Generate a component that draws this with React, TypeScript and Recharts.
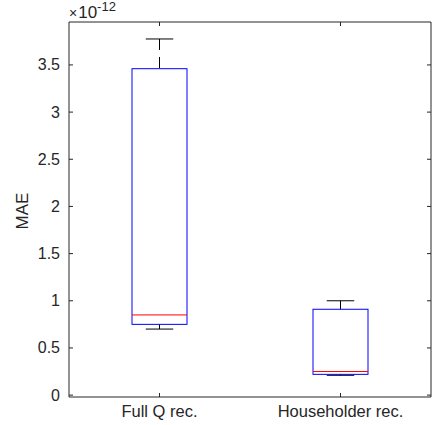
import React from "react";
import { ComposedChart, Bar, XAxis, YAxis } from "recharts";

const categories = ["Full Q rec.", "Householder rec."];
const lowerWhisker = [0.7, 0.21];
const lowerQuartile = [0.75, 0.22];
const medians = [0.85, 0.25];
const upperQuartile = [3.46, 0.91];
const upperWhisker = [3.775, 1.0];
const yTicks = [0, 0.5, 1, 1.5, 2, 2.5, 3, 3.5];

const AXIS = "#262626";
const FONT = "'Liberation Sans', Arial, Helvetica, sans-serif";
const TICK_LEN = 4;
const Y_DOMAIN = [-0.02, 3.955];

const data = categories.map((name, i) => ({
  name,
  box: [lowerQuartile[i], upperQuartile[i]],
  min: lowerWhisker[i],
  median: medians[i],
  max: upperWhisker[i],
}));

// box + whiskers + median, placed from the bar's own scaled rect
const BoxShape = (props: any) => {
  const { x, y, width, height, payload } = props;
  const [q1, q3] = payload.box;
  const top = Math.min(y, y + height);
  const bottom = Math.max(y, y + height);
  const k = (bottom - top) / (q3 - q1);
  const py = (v: number) => bottom - (v - q1) * k;
  const cx = x + width / 2;
  const cap = width / 4;
  const yMax = py(payload.max);
  const yMin = py(payload.min);
  const yMed = py(payload.median);
  return (
    <g>
      <line x1={cx} x2={cx} y1={yMax} y2={top} stroke="#000" strokeDasharray="11 7" />
      <line x1={cx - cap} x2={cx + cap} y1={yMax} y2={yMax} stroke="#000" />
      <line x1={cx} x2={cx} y1={yMin} y2={bottom} stroke="#000" strokeDasharray="11 7" />
      <line x1={cx - cap} x2={cx + cap} y1={yMin} y2={yMin} stroke="#000" />
      <rect x={x} y={top} width={width} height={bottom - top} fill="none" stroke="#0000ff" />
      <line x1={x} x2={x + width} y1={yMed} y2={yMed} stroke="#ff0000" />
    </g>
  );
};

const LeftTick = (props: any) => {
  const { x, y, payload } = props;
  return (
    <g>
      <line x1={x} x2={x + TICK_LEN} y1={y} y2={y} stroke={AXIS} />
      <text x={x - 9} y={y + 5.5} textAnchor="end" fontSize={16} fill={AXIS} fontFamily={FONT}>
        {payload.value}
      </text>
    </g>
  );
};

const RightTick = (props: any) => {
  const { x, y } = props;
  return <line x1={x} x2={x - TICK_LEN} y1={y} y2={y} stroke={AXIS} />;
};

const BottomTick = (props: any) => {
  const { x, y, payload } = props;
  return (
    <g>
      <line x1={x} x2={x} y1={y} y2={y - TICK_LEN} stroke={AXIS} />
      <text x={x} y={y + 20} textAnchor="middle" fontSize={16.5} fill={AXIS} fontFamily={FONT}>
        {payload.value}
      </text>
    </g>
  );
};

const TopTick = (props: any) => {
  const { x, y } = props;
  return <line x1={x} x2={x} y1={y} y2={y + TICK_LEN} stroke={AXIS} />;
};

export default function App() {
  return (
    <div style={{ position: "relative", width: 435, height: 425, background: "#fff" }}>
      <style>{`body{margin:0}`}</style>
      <ComposedChart
        width={435}
        height={425}
        data={data}
        margin={{ top: 21, right: 3, bottom: 8, left: 29 }}
      >
        <XAxis
          xAxisId="bottom"
          dataKey="name"
          height={20}
          tickSize={0}
          tickMargin={0}
          tickLine={false}
          interval={0}
          axisLine={{ stroke: AXIS }}
          tick={<BottomTick />}
        />
        <XAxis
          xAxisId="top"
          dataKey="name"
          orientation="top"
          height={1}
          tickSize={0}
          tickMargin={0}
          tickLine={false}
          interval={0}
          axisLine={{ stroke: AXIS }}
          tick={<TopTick />}
        />
        <YAxis
          yAxisId="left"
          type="number"
          domain={Y_DOMAIN}
          ticks={yTicks}
          allowDataOverflow
          interval={0}
          width={40}
          tickSize={0}
          tickMargin={0}
          tickLine={false}
          axisLine={{ stroke: AXIS }}
          tick={<LeftTick />}
        />
        <YAxis
          yAxisId="right"
          orientation="right"
          type="number"
          domain={Y_DOMAIN}
          ticks={yTicks}
          allowDataOverflow
          interval={0}
          width={1}
          tickSize={0}
          tickMargin={0}
          tickLine={false}
          axisLine={{ stroke: AXIS }}
          tick={<RightTick />}
        />
        <Bar
          xAxisId="bottom"
          yAxisId="left"
          dataKey="box"
          barSize={55}
          shape={<BoxShape />}
          isAnimationActive={false}
        />
        {/* invisible series so the mirrored frame axes get drawn */}
        <Bar
          xAxisId="top"
          yAxisId="right"
          dataKey="box"
          barSize={55}
          shape={() => null}
          isAnimationActive={false}
        />
      </ComposedChart>
      <svg
        width={435}
        height={425}
        style={{ position: "absolute", left: 0, top: 0, pointerEvents: "none" }}
      >
        <text
          transform="translate(22,211) rotate(-90)"
          textAnchor="middle"
          dominantBaseline="central"
          style={{ fontSize: 17, fontFamily: FONT }}
          fill={AXIS}
        >
          MAE
        </text>
        <text x={69} y={18} fill={AXIS} style={{ fontSize: 14, fontFamily: FONT }}>
          ×
          <tspan dx={1} style={{ fontSize: 17 }}>10</tspan>
          <tspan dy={-7} style={{ fontSize: 13 }}>-12</tspan>
        </text>
      </svg>
    </div>
  );
}
